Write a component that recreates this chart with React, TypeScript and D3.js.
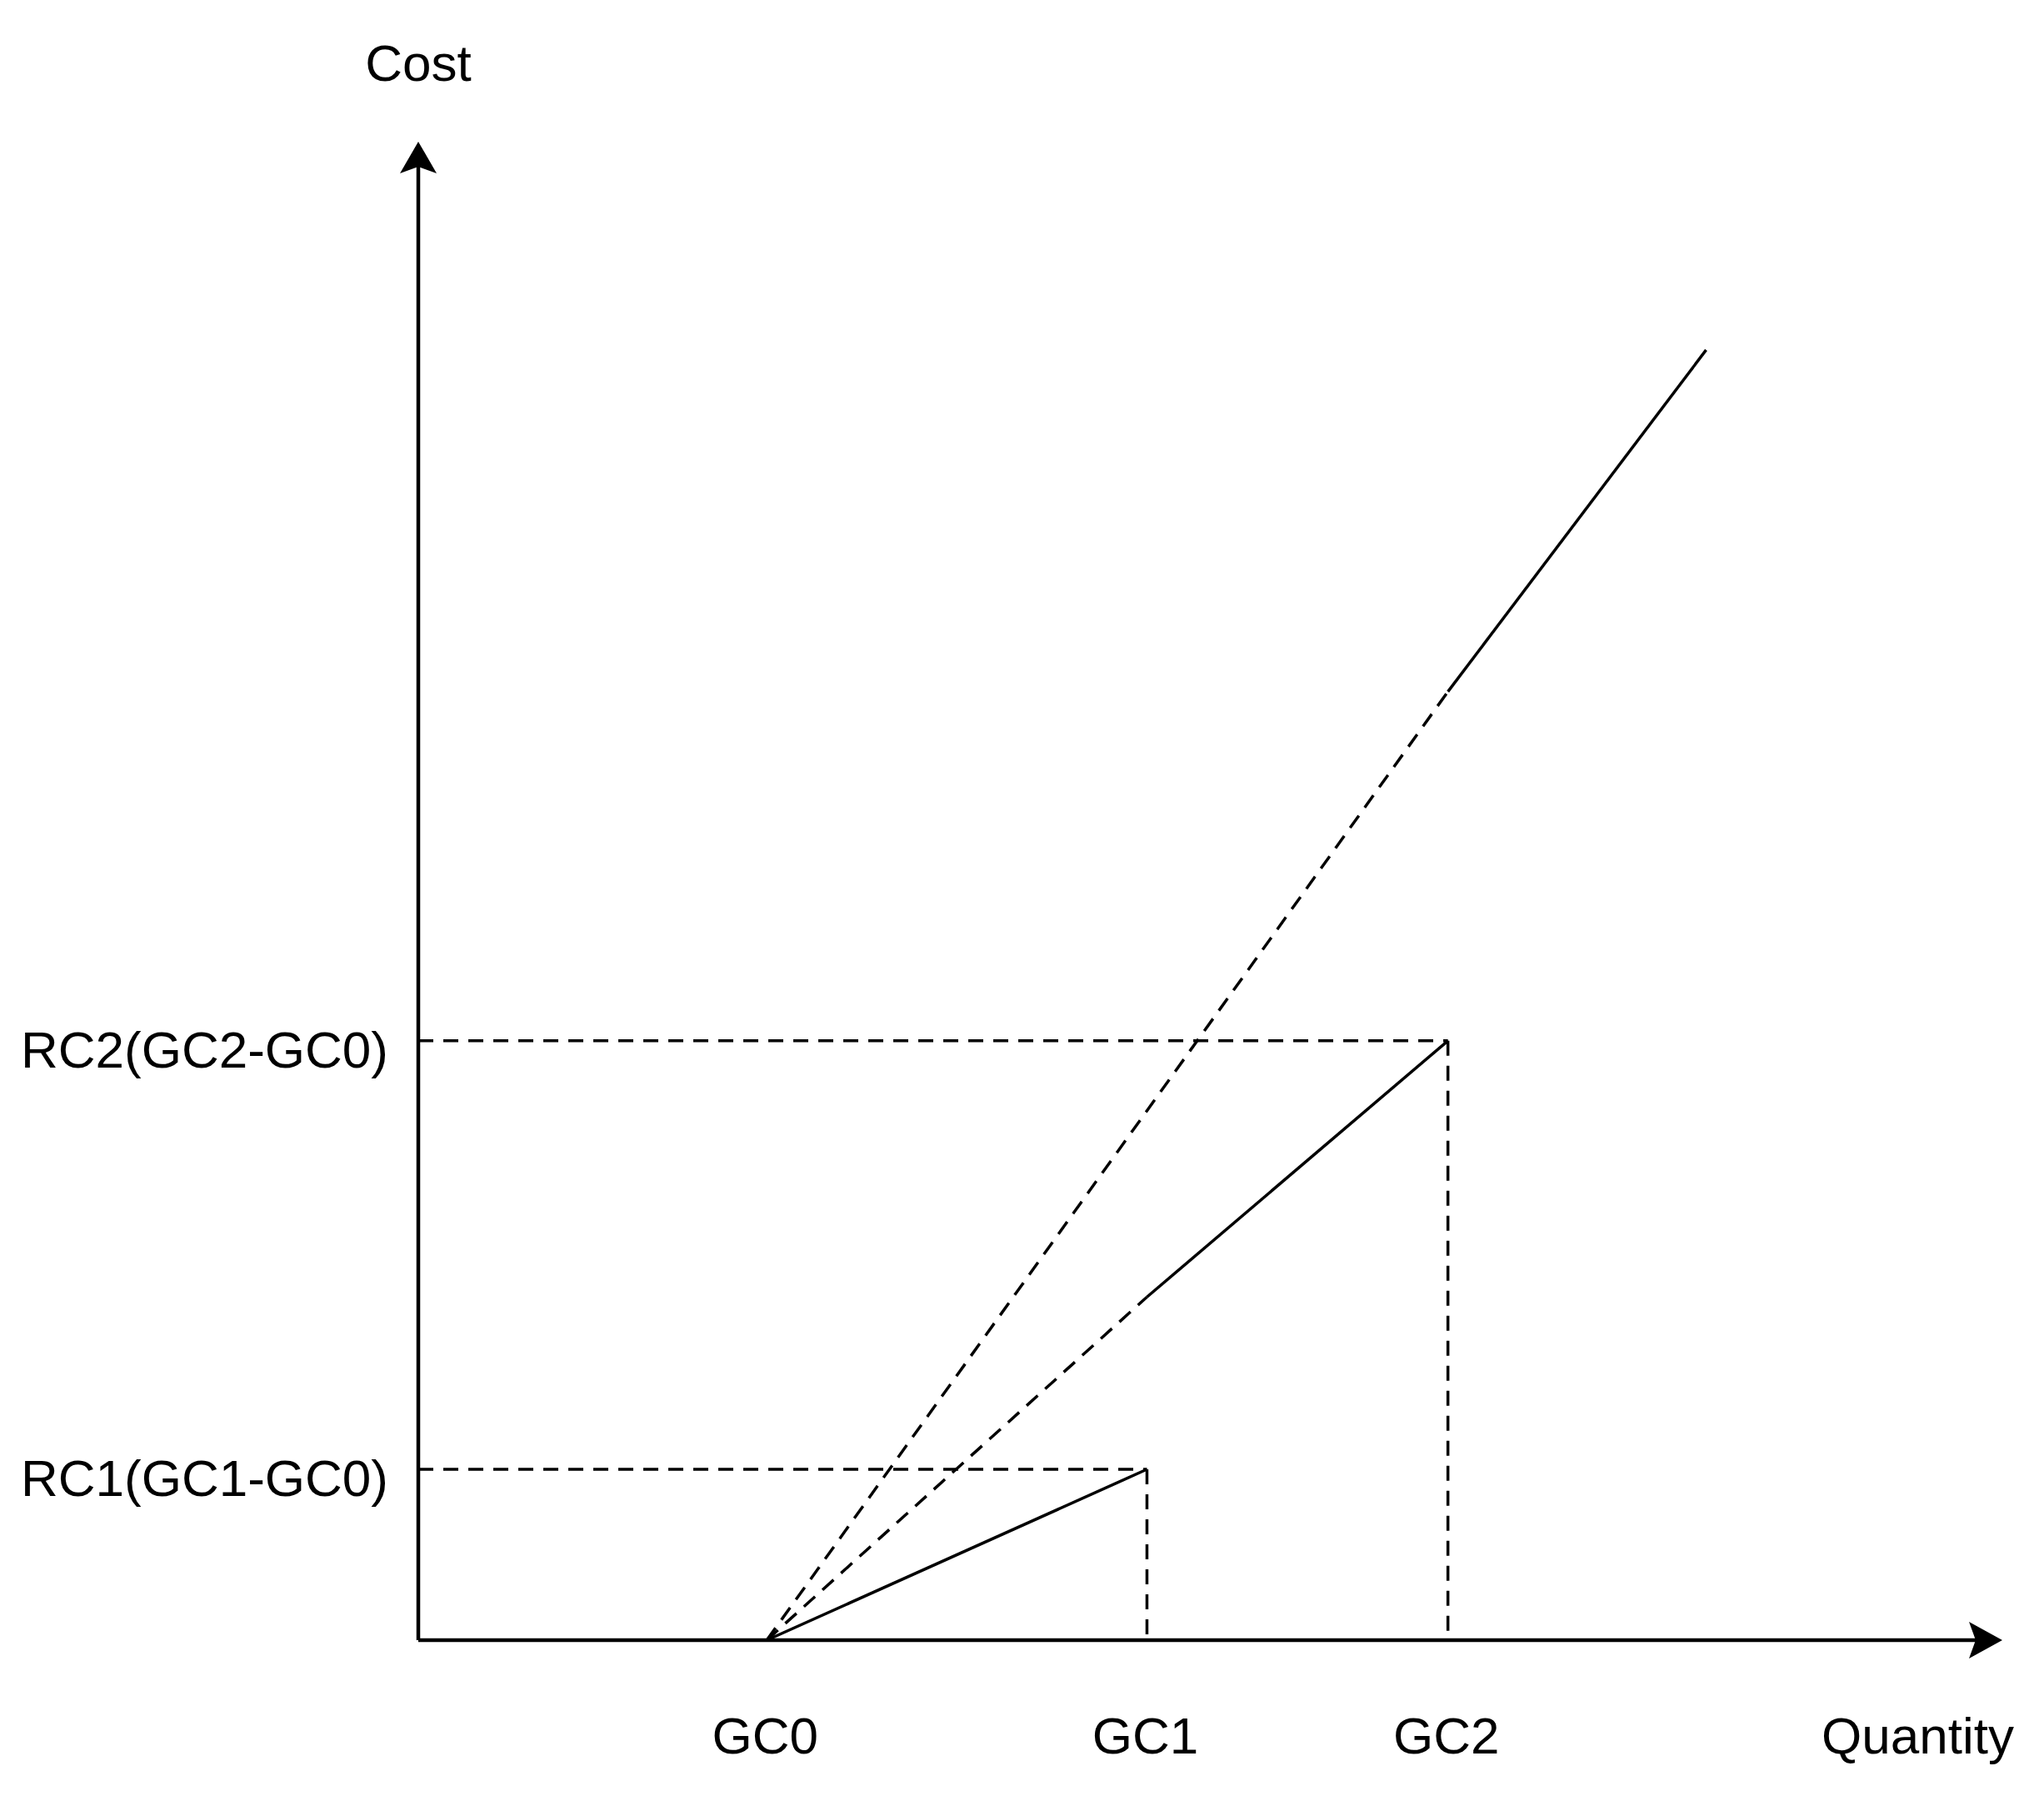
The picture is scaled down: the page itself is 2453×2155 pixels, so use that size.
import * as d3 from "d3";

// x positions on the quantity axis (0..100 units)
const gcLabels = ["GC0", "GC1", "GC2"];
const gcValues = [22, 46, 65];

// y positions on the cost axis (0..100 units)
const rcLabels = ["RC1(GC1-GC0)", "RC2(GC2-GC0)"];
const rcValues = [11.4, 40];

// cost curves: dashed part from GC0, then solid part
const line1Solid = [
  { q: 22, c: 0 },
  { q: 46, c: 11.4 },
];
const line2Dashed = [
  { q: 22, c: 0 },
  { q: 46, c: 22.9 },
];
const line2Solid = [
  { q: 46, c: 22.9 },
  { q: 65, c: 40 },
];
const line3Dashed = [
  { q: 22, c: 0 },
  { q: 65, c: 63.3 },
];
const line3Solid = [
  { q: 65, c: 63.3 },
  { q: 81.3, c: 86.1 },
];

const axisTitleX = "Quantity";
const axisTitleY = "Cost";

const width = 2453;
const height = 2155;
const originX = 502;
const originY = 1968;
const axisEndX = 2403;
const axisEndY = 170;

const font = "'Liberation Sans', Arial, Helvetica, sans-serif";
const fontSize = 62;

const App = () => {
  const xScale = d3.scaleLinear().domain([0, 100]).range([originX, axisEndX]);
  const yScale = d3.scaleLinear().domain([0, 100]).range([originY, axisEndY]);

  const lineFunc = d3
    .line<{ q: number; c: number }>()
    .x((d) => xScale(d.q))
    .y((d) => yScale(d.c));

  const x0 = xScale(0);
  const y0 = yScale(0);
  const xTip = xScale(100);
  const yTip = yScale(100);

  const dash = "18 12";

  return (
    <svg
      width={width}
      height={height}
      style={{ position: "absolute", left: 0, top: 0, background: "#fff" }}
    >
      {/* guide lines */}
      {rcValues.map((v, i) => (
        <g key={"g" + i}>
          <line
            x1={x0}
            x2={xScale(gcValues[i + 1])}
            y1={yScale(v)}
            y2={yScale(v)}
            stroke="#000"
            strokeWidth={3.5}
            strokeDasharray={dash}
          />
          <line
            x1={xScale(gcValues[i + 1])}
            x2={xScale(gcValues[i + 1])}
            y1={yScale(v)}
            y2={y0}
            stroke="#000"
            strokeWidth={3.5}
            strokeDasharray={dash}
          />
        </g>
      ))}

      {/* curves */}
      <path d={lineFunc(line1Solid) ?? ""} fill="none" stroke="#000" strokeWidth={3.5} />
      <path
        d={lineFunc(line2Dashed) ?? ""}
        fill="none"
        stroke="#000"
        strokeWidth={3.5}
        strokeDasharray={dash}
      />
      <path d={lineFunc(line2Solid) ?? ""} fill="none" stroke="#000" strokeWidth={3.5} />
      <path
        d={lineFunc(line3Dashed) ?? ""}
        fill="none"
        stroke="#000"
        strokeWidth={3.5}
        strokeDasharray={dash}
      />
      <path d={lineFunc(line3Solid) ?? ""} fill="none" stroke="#000" strokeWidth={3.5} />

      {/* axes */}
      <line x1={x0} x2={xTip - 32} y1={y0} y2={y0} stroke="#000" strokeWidth={4.5} />
      <line x1={x0} x2={x0} y1={y0} y2={yTip + 30} stroke="#000" strokeWidth={4.5} />
      <path
        d={`M${xTip},${y0} L${xTip - 40},${y0 - 22} L${xTip - 32},${y0} L${xTip - 40},${y0 + 22} Z`}
        fill="#000"
      />
      <path
        d={`M${x0},${yTip} L${x0 - 22},${yTip + 38} L${x0},${yTip + 30} L${x0 + 22},${yTip + 38} Z`}
        fill="#000"
      />

      {/* labels */}
      <g fontFamily={font} fontSize={fontSize} fill="#000">
        <text x={x0} y={97} textAnchor="middle">
          {axisTitleY}
        </text>
        <text x={2417} y={2104} textAnchor="end">
          {axisTitleX}
        </text>
        {gcLabels.map((l, i) => (
          <text key={l} x={xScale(gcValues[i]) - 2} y={2104} textAnchor="middle">
            {l}
          </text>
        ))}
        {rcLabels.map((l, i) => (
          <text key={l} x={466} y={yScale(rcValues[i]) + 32} textAnchor="end">
            {l}
          </text>
        ))}
      </g>
    </svg>
  );
};

export default App;
